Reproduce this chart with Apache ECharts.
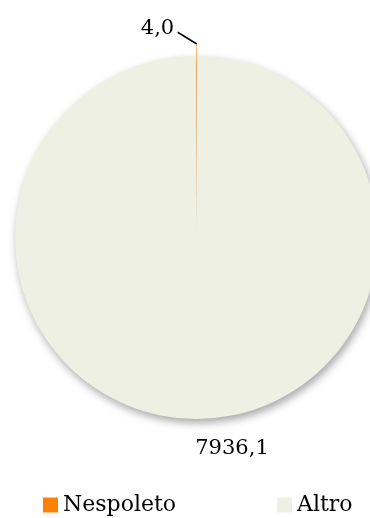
<!DOCTYPE html>
<html>
<head>
<meta charset="utf-8">
<script src="https://cdn.jsdelivr.net/npm/echarts@6/dist/echarts.min.js"></script>
<style>
  html, body { margin: 0; padding: 0; background: #fff; }
  #main { width: 370px; height: 518px; }
</style>
</head>
<body>
<div id="main"></div>
<script>
// dati del grafico
var categories = ['Nespoleto', 'Altro']
var values = [4.0, 7936.1]
var colors = ['#FF7F00', '#EDF0E2']

var FONT = 'DejaVu Serif'

var chart = echarts.init(document.getElementById('main'))

function fmt(p) {
  return p.value.toFixed(1).replace('.', ',')
}

// una serie per ogni fetta, così la fetta "Nespoleto" può essere staccata
function sliceData(keep) {
  return categories.map(function (name, i) {
    var d = { name: name, value: values[i], itemStyle: { color: colors[i] } }
    if (i !== keep) {
      d.itemStyle = { color: 'rgba(0,0,0,0)', shadowBlur: 0, shadowColor: 'rgba(0,0,0,0)' }
      d.label = { show: false }
      d.labelLine = { show: false }
    }
    return d
  })
}

var baseSeries = {
  type: 'pie',
  radius: 181.5,
  startAngle: 90,
  emphasis: { disabled: true },
  label: {
    show: true,
    position: 'outside',
    fontFamily: FONT,
    fontSize: 21,
    color: '#000',
    formatter: fmt
  }
}

var option = {
  animation: false,
  legend: {
    data: categories.map(function (name, i) {
      return { name: name, itemStyle: { color: colors[i] } }
    }),
    left: 43,
    top: 494,
    padding: 0,
    itemWidth: 15,
    itemHeight: 15,
    itemGap: 101,
    icon: 'rect',
    selectedMode: false,
    textStyle: { fontFamily: FONT, fontSize: 22, color: '#000' }
  },
  series: [
    Object.assign({}, baseSeries, {
      center: [196.5, 237.5],
      itemStyle: {
        shadowBlur: 8,
        shadowOffsetX: 2,
        shadowOffsetY: 4,
        shadowColor: 'rgba(0,0,0,0.35)'
      },
      labelLine: { show: false },
      labelLayout: function () {
        return { x: 232, y: 449, align: 'center', verticalAlign: 'middle' }
      },
      data: sliceData(1)
    }),
    Object.assign({}, baseSeries, {
      center: [196.5, 225.5],
      label: Object.assign({}, baseSeries.label, {
        formatter: function (p) { return '{a|' + fmt(p) + '}{b|}' },
        rich: {
          a: { fontFamily: FONT, fontSize: 21, color: '#000', verticalAlign: 'top' },
          b: { width: 7, height: 36 }
        }
      }),
      labelLine: {
        show: true,
        length: 0,
        length2: 0,
        lineStyle: { color: '#000', width: 1.5 }
      },
      labelLayout: function () {
        return { x: 161, y: 36, align: 'center', verticalAlign: 'middle' }
      },
      data: sliceData(0)
    })
  ]
}

chart.setOption(option)
</script>
</body>
</html>
